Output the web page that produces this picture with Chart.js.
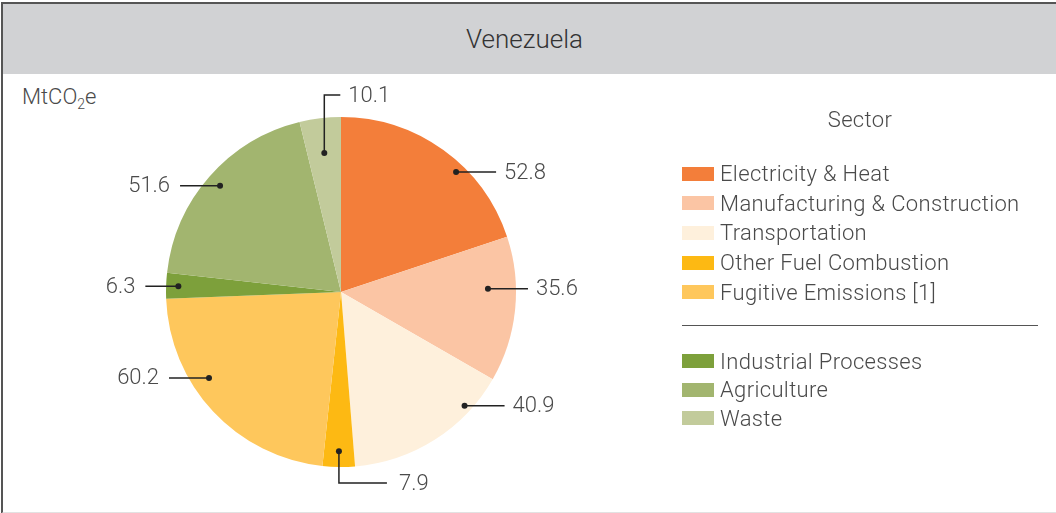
<!doctype html>
<html lang="en">
  <head>
    <meta charset="utf-8">
    <title>Venezuela - MtCO2e by sector</title>
    <style>
      * {
        margin: 0;
        padding: 0;
        font-family: Roboto, sans-serif;
        font-weight: 300;
      }
      body {
        width: 1056px;
        height: 513px;
        position: relative;
        background: #fff;
        overflow: hidden;
      }
      .frame {
        position: absolute;
        left: 1px;
        top: 2px;
        width: 1055px;
        height: 508px;
        border-left: solid 2px #555;
        border-top: solid 2px #555;
        border-bottom: solid 2px #e2e2e2;
      }
      .header {
        height: 70px;
        background: #d1d2d4;
        color: #333;
        font-size: 26px;
        line-height: 70px;
        text-align: center;
        padding-right: 12px;
      }
      .unit {
        position: absolute;
        left: 22px;
        top: 84px;
        font-size: 22px;
        color: #4a4a4a;
      }
      .unit sub {
        font-size: 14px;
      }
      canvas#pie {
        position: absolute;
        left: 0;
        top: 0;
      }
      .legend {
        position: absolute;
        left: 682px;
        top: 105px;
        width: 356px;
        color: #4a4a4a;
        font-size: 22px;
        letter-spacing: 0.35px;
      }
      .legend h4 {
        text-align: center;
        height: 54px;
        line-height: 30px;
      }
      .legend .row {
        height: 29.6px;
        display: flex;
        align-items: center;
      }
      .legend hr ~ .row {
        height: 28.5px;
      }
      .legend .sw {
        width: 32px;
        height: 14px;
        margin-right: 6px;
      }
      .legend hr {
        border: none;
        border-top: solid 1.5px #555;
        margin: 18px 0 21px 0;
      }
    </style>
  </head>
  <body>
    <div class="frame">
      <div class="header">Venezuela</div>
    </div>
    <div class="unit">MtCO<sub>2</sub>e</div>
    <canvas id="pie" width="1056" height="513"></canvas>
    <div class="legend" id="legend"><h4>Sector</h4></div>

    <script src="https://cdn.jsdelivr.net/npm/chart.js"></script>
    <script>
    // data
    const sectors = [
      'Electricity & Heat',
      'Manufacturing & Construction',
      'Transportation',
      'Other Fuel Combustion',
      'Fugitive Emissions [1]',
      'Industrial Processes',
      'Agriculture',
      'Waste'
    ];
    const emissions = [52.8, 35.6, 40.9, 7.9, 60.2, 6.3, 51.6, 10.1];
    const colors = ['#f37e3a', '#fbc5a4', '#fef0dc', '#fdb913', '#fec75c', '#7da03b', '#a2b56f', '#c2cb9b'];
    const energyCount = 5; // first group in the legend, before the line

    // legend (html)
    const legend = document.getElementById('legend');
    sectors.forEach((name, i) => {
      if (i === energyCount) legend.appendChild(document.createElement('hr'));
      const row = document.createElement('div');
      row.className = 'row';
      row.innerHTML = '<span class="sw" style="background:' + colors[i] + '"></span>' + name;
      legend.appendChild(row);
    });

    // value labels with leader lines
    const leaderLabels = {
      id: 'leaderLabels',
      afterDatasetsDraw(chart, args, opts) {
        const ctx = chart.ctx;
        const meta = chart.getDatasetMeta(0);
        const values = chart.data.datasets[0].data;
        ctx.save();
        ctx.strokeStyle = '#222';
        ctx.fillStyle = '#222';
        ctx.lineWidth = 1.5;
        ctx.font = '300 22px Roboto, sans-serif';
        ctx.textBaseline = 'middle';
        meta.data.forEach((arc, i) => {
          const t = opts.tweaks[i] || {};
          const mid = (arc.startAngle + arc.endAngle) / 2 + (t.shift || 0) * Math.PI / 180;
          const r = arc.outerRadius * (t.depth || 0.92);
          const dx = arc.x + Math.cos(mid) * r;
          const dy = arc.y + Math.sin(mid) * r;
          ctx.beginPath();
          ctx.arc(dx, dy, 3, 0, Math.PI * 2);
          ctx.fill();
          ctx.beginPath();
          ctx.moveTo(dx, dy);
          let tx, ty, align;
          if (t.elbow) {
            // vertical out of the pie, then to the right
            const down = Math.sin(mid) > 0;
            ty = arc.y + (down ? 1 : -1) * (arc.outerRadius + t.out);
            ctx.lineTo(dx, ty);
            ctx.lineTo(dx + t.elbow, ty);
            tx = dx + t.elbow + t.gap;
            align = 'left';
          } else {
            const right = Math.cos(mid) >= 0;
            ty = dy;
            const ex = dx + (right ? 1 : -1) * (t.len || 40);
            ctx.lineTo(ex, ty);
            tx = ex + (right ? 8 : -10);
            align = right ? 'left' : 'right';
          }
          ctx.stroke();
          ctx.fillStyle = '#4a4a4a';
          ctx.textAlign = align;
          ctx.fillText(values[i].toFixed(1), tx, ty + 1);
          ctx.fillStyle = '#222';
        });
        ctx.restore();
      }
    };

    const config = {
      type: 'pie',
      data: {
        labels: sectors,
        datasets: [{
          data: emissions,
          backgroundColor: colors,
          borderWidth: 0
        }]
      },
      options: {
        responsive: false,
        animation: false,
        layout: {
          padding: { left: 166, right: 540, top: 117, bottom: 46 }
        },
        plugins: {
          legend: { display: false },
          tooltip: { enabled: false },
          leaderLabels: {
            tweaks: {
              0: { shift: 8, depth: 0.95 },
              1: { shift: -7, depth: 0.84 },
              2: { shift: -15, depth: 0.96 },
              3: { elbow: 48, out: 16, gap: 12, depth: 0.91 },
              4: { shift: 10, depth: 0.9 },
              5: { depth: 0.93, len: 33 },
              6: { depth: 0.92 },
              7: { elbow: 16, out: 22, gap: 8, depth: 0.8 }
            }
          }
        }
      },
      plugins: [leaderLabels]
    };

    const myChart = new Chart(document.getElementById('pie'), config);
    </script>
  </body>
</html>
